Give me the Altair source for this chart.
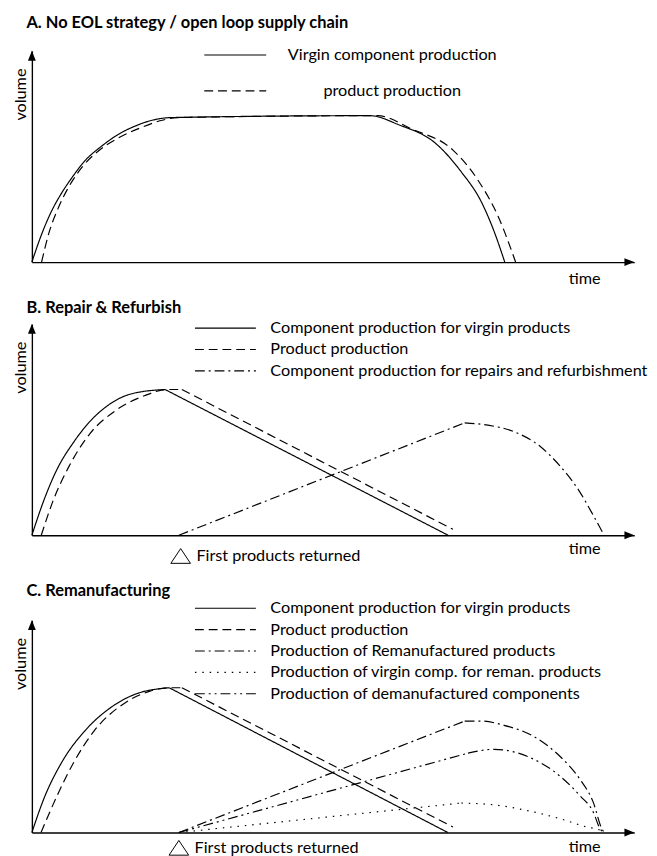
import altair as alt
import pandas as pd

FONT = "Lato"
FS = 16.5
TFS = 16.7
LW = 1.2

SOLID = [1, 0]
DASH = [9, 5]
DASHDOT = [10, 4, 2, 4]
DOT = [1.5, 6]
DASHDOTDOT = [10, 4, 2, 4, 2, 4]

RIGHT_ARROW = "M0,0L-1,-0.4L-1,0.4Z"
UP_ARROW = "M0,0L-0.4,1L0.4,1Z"
TRIANGLE = "M0,-0.75L1,0.75L-1,0.75Z"

# ---------------- Panel A ----------------
A_series = ["Virgin component production", "product production"]
A_solid_t = [0, 1.73, 3.37, 5.01, 6.66, 8.79, 11.59, 14.38, 17.0, 19.8, 23.1,
             56.1, 60.9, 67.1, 71.2, 74.7, 76.8, 78.5]
A_solid_v = [0, 14, 24.7, 33, 40, 47.9, 54.9, 60.5, 64.2, 67, 68.4,
             69.3, 65, 56, 43, 28, 14, 0]
A_dash_t = [1.61, 2.83, 4.47, 6.11, 8.3, 11.04, 14.33, 18.16, 21.45, 24.24,
            57.4, 63.0, 69.9, 74.0, 77.5, 80.3]
A_dash_v = [0, 13.8, 26.2, 35.5, 44.8, 52.6, 58.7, 63.7, 67, 68.4,
            69.3, 63, 53, 39, 21, 0]

# ---------------- Panel B ----------------
B_series = ["Component production for virgin products", "Product production",
            "Component production for repairs and refurbishment"]
B_solid_curve_t = [0, 2.05, 4.14, 6.92, 9.68, 12.4, 16.6, 22.1]
B_solid_curve_v = [0, 17, 31, 44, 54, 61, 67, 69]
B_solid_line_t = [22.1, 69.1]
B_solid_line_v = [69, 0]
B_dash_curve_t = [1.56, 3.45, 6.16, 9.61, 13.89, 18.65, 22.43, 24.9]
B_dash_curve_v = [0, 15.8, 32.6, 48, 59, 66, 69, 69]
B_dash_line_t = [24.9, 69.9]
B_dash_line_v = [69, 2.8]
B_rep_line_t = [24.4, 71.85]
B_rep_line_v = [0, 53.2]
B_rep_curve_t = [71.85, 75.7, 80.06, 84.4, 87.7, 91.0, 93.2, 94.9]
B_rep_curve_v = [53.2, 52.1, 49.0, 42.0, 32.7, 20.3, 9.4, 0.5]
B_return_t = 24.7
B_return_v = -9.8

# ---------------- Panel C ----------------
C_series = ["Component production for virgin products", "Product production",
            "Production of Remanufactured products",
            "Production of virgin comp. for reman. products",
            "Production of demanufactured components"]
C_solid_curve_t = [0, 2.07, 4.84, 8.99, 13.15, 17.3, 22.8]
C_solid_curve_v = [0, 16.5, 32.5, 48.5, 59, 65.3, 68.2]
C_solid_line_t = [22.8, 69.05]
C_solid_line_v = [68.2, 0]
C_dash_curve_t = [1.52, 4.15, 6.92, 10.4, 15.2, 19.5, 22.6, 24.9]
C_dash_curve_v = [0, 17.1, 32.9, 48.1, 60.6, 66.5, 68.2, 68.2]
C_dash_line_t = [24.9, 69.9]
C_dash_line_v = [68.2, 2.6]
C_reman_line_t = [24.4, 71.85]
C_reman_line_v = [0, 52.5]
C_reman_curve_t = [71.85, 74.6, 78.4, 83.4, 87.7, 91.0, 93.2, 94.6, 95.0]
C_reman_curve_v = [52.5, 52.5, 50.5, 45.1, 35.8, 25.0, 14.2, 1.9, 0]
C_virgin_line_t = [24.4, 71.3]
C_virgin_line_v = [0, 13.9]
C_virgin_curve_t = [71.3, 76.8, 82.3, 87.7, 92.1, 94.3, 94.9]
C_virgin_curve_v = [13.9, 13.0, 10.3, 6.5, 2.6, 1.1, 0]
C_deman_line_t = [24.4, 72.4]
C_deman_line_v = [0, 37.4]
C_deman_curve_t = [72.4, 76.8, 82.3, 87.7, 91.0, 93.2, 94.3, 94.9]
C_deman_curve_v = [37.4, 39.2, 35.8, 26.5, 17.3, 9.6, 1.9, 0]
C_return_t = 24.4
C_return_v = -7.2

RETURN_LABEL = "First products returned"

PANEL_W = 613


def panel(title, title_offset, series, dashes, segments, leg, height,
          time_y, annot=None, sym_half=6.2):
    rows = []
    for sid, (name, kind, ts, vs) in enumerate(segments):
        for i, (t, v) in enumerate(zip(ts, vs)):
            rows.append({"series": name, "seg": sid, "kind": kind,
                         "i": i, "t": t, "v": v})
    df = pd.DataFrame(rows)
    xs = alt.Scale(domain=[0, 100], nice=False, zero=False)
    ys = alt.Scale(domain=[0, 100], nice=False, zero=False)
    xaxis = alt.Axis(title="time", domain=True, domainColor="black",
                     domainWidth=1.4, ticks=False, labels=False, grid=False,
                     titleX=562, titleY=time_y, titleAlign="center",
                     titleBaseline="middle", titleFont=FONT, titleFontSize=FS,
                     titleFontWeight="normal", titleColor="black")
    yaxis = alt.Axis(title="volume", domain=True, domainColor="black",
                     domainWidth=1.4, ticks=False, labels=False, grid=False,
                     titleX=-6.2, titleY=44, titleAngle=270,
                     titleAlign="center", titleBaseline="alphabetic",
                     titleFont=FONT, titleFontSize=FS,
                     titleFontWeight="normal", titleColor="black")
    X = alt.X("t:Q", scale=xs, axis=xaxis)
    Y = alt.Y("v:Q", scale=ys, axis=yaxis)
    dash_scale = alt.Scale(domain=series, range=dashes)
    legend = alt.Legend(title=None, orient="none", padding=0,
                        symbolType="M-%s,0H%s" % (sym_half, sym_half),
                        symbolSize=100,
                        symbolStrokeColor="black", symbolStrokeWidth=LW,
                        labelFont=FONT, labelFontSize=FS, labelColor="black",
                        labelLimit=0, **leg)
    layers = []
    for kind in ["monotone", "linear"]:
        sub = df[df["kind"] == kind]
        if len(sub) == 0:
            continue
        layers.append(
            alt.Chart(sub).mark_line(interpolate=kind, color="black",
                                     strokeWidth=LW).encode(
                x=X, y=Y,
                strokeDash=alt.StrokeDash("series:N", scale=dash_scale,
                                          legend=legend),
                detail="seg:N",
                order="i:Q",
            )
        )
    xa = pd.DataFrame({"t": [100], "v": [0]})
    ya = pd.DataFrame({"t": [0], "v": [100]})
    layers.append(alt.Chart(xa).mark_point(shape=RIGHT_ARROW, size=400,
                                           filled=True, color="black",
                                           opacity=1).encode(x=X, y=Y))
    layers.append(alt.Chart(ya).mark_point(shape=UP_ARROW, size=400,
                                           filled=True, color="black",
                                           opacity=1).encode(x=X, y=Y))
    if annot is not None:
        an = pd.DataFrame({"t": [annot[0]], "v": [annot[1]],
                           "label": [RETURN_LABEL]})
        layers.append(alt.Chart(an).mark_point(shape=TRIANGLE, size=400,
                                               filled=False, color="black",
                                               strokeWidth=1,
                                               opacity=1).encode(x=X, y=Y))
        layers.append(alt.Chart(an).mark_text(align="left", baseline="middle",
                                              dx=16, font=FONT, fontSize=FS,
                                              color="black").encode(
            x=X, y=Y, text="label:N"))
    return alt.layer(*layers).properties(
        width=PANEL_W, height=height,
        title=alt.TitleParams(text=title, anchor="start", frame="group",
                              font=FONT, fontSize=TFS, fontWeight="bold",
                              color="black", offset=title_offset, dx=-5.5),
    )


A = panel(
    "A. No EOL strategy / open loop supply chain", 15, A_series,
    [SOLID, DASH],
    [(A_series[0], "monotone", A_solid_t, A_solid_v),
     (A_series[1], "monotone", A_dash_t, A_dash_v)],
    dict(legendX=198.7, legendY=-4, labelOffset=151.5, rowPadding=19.5,
         labelAlign="center"),
    215, 17, sym_half=6.3)

B = panel(
    "B. Repair & Refurbish", 3, B_series, [SOLID, DASH, DASHDOT],
    [(B_series[0], "monotone", B_solid_curve_t, B_solid_curve_v),
     (B_series[0], "linear", B_solid_line_t, B_solid_line_v),
     (B_series[1], "monotone", B_dash_curve_t, B_dash_curve_v),
     (B_series[1], "linear", B_dash_line_t, B_dash_line_v),
     (B_series[2], "linear", B_rep_line_t, B_rep_line_v),
     (B_series[2], "monotone", B_rep_curve_t, B_rep_curve_v)],
    dict(legendX=188.7, legendY=-4, labelOffset=37.5, rowPadding=4.75),
    215, 14, annot=(B_return_t, B_return_v))

C = panel(
    "C. Remanufacturing", 0, C_series,
    [SOLID, DASH, DASHDOT, DOT, DASHDOTDOT],
    [(C_series[0], "monotone", C_solid_curve_t, C_solid_curve_v),
     (C_series[0], "linear", C_solid_line_t, C_solid_line_v),
     (C_series[1], "monotone", C_dash_curve_t, C_dash_curve_v),
     (C_series[1], "linear", C_dash_line_t, C_dash_line_v),
     (C_series[2], "linear", C_reman_line_t, C_reman_line_v),
     (C_series[2], "monotone", C_reman_curve_t, C_reman_curve_v),
     (C_series[3], "linear", C_virgin_line_t, C_virgin_line_v),
     (C_series[3], "monotone", C_virgin_curve_t, C_virgin_curve_v),
     (C_series[4], "linear", C_deman_line_t, C_deman_line_v),
     (C_series[4], "monotone", C_deman_curve_t, C_deman_curve_v)],
    dict(legendX=188.7, legendY=-20.5, labelOffset=37.5, rowPadding=4.75),
    216, 14, annot=(C_return_t, C_return_v))

inner = alt.vconcat(B, C, spacing=86.5, bounds="flush").resolve_scale(
    strokeDash="independent").resolve_legend(strokeDash="independent")
chart = alt.vconcat(A, inner, spacing=13).resolve_scale(
    strokeDash="independent").resolve_legend(strokeDash="independent")
chart = chart.properties(
    padding={"left": 4.3, "top": 0, "right": 0, "bottom": 0},
    background="white",
).configure_view(stroke=None)

chart.save("out.html", embed_options={"renderer": "svg", "actions": False})
